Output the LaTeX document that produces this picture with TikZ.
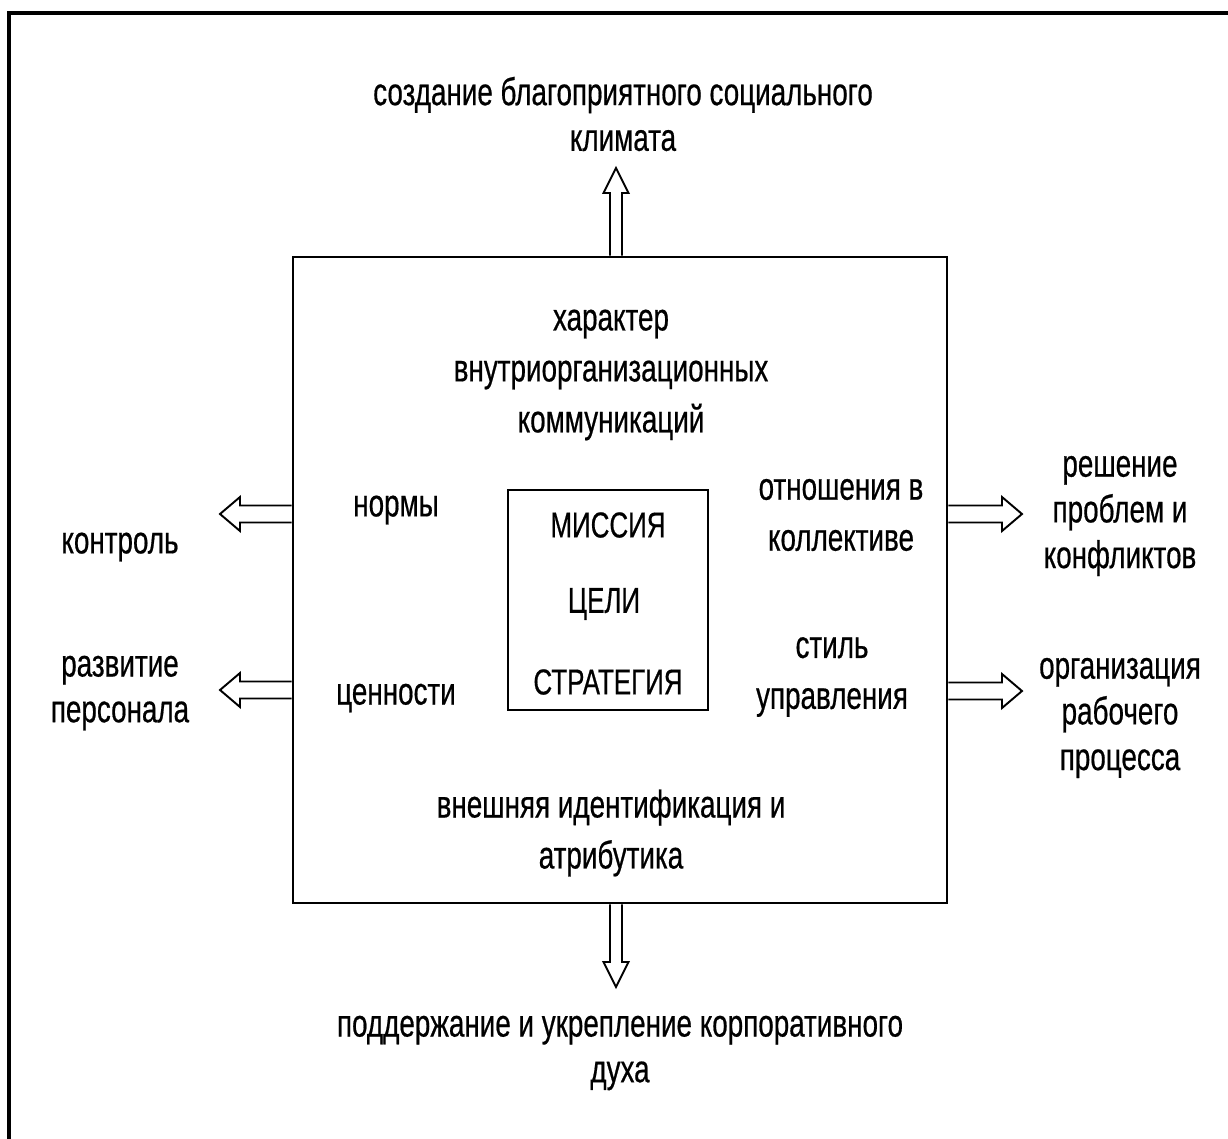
\documentclass[tikz,border=0pt]{standalone}
\usepackage{fontspec}
\setmainfont{Liberation Sans}[FakeStretch=0.72, FakeBold=0.5]
\usetikzlibrary{calc}

\tikzset{
  lbl/.style={align=center, inner sep=0pt, font=\fontsize{22}{26}\selectfont},
  lblwide/.style={lbl, font=\fontsize{22}{29}\selectfont},
  caps/.style={lbl, font=\fontsize{20.5}{24}\selectfont},
  % hollow arrow: shaft half width, head half width, head length
  hollow/.style n args={3}{line width=1.1pt, line join=miter, to path={
    ($(\tikztotarget)!#3!(\tikztostart)$) coordinate (hb)
    ($(\tikztostart)!#1!90:(\tikztotarget)$) -- ($(hb)!#1!90:(\tikztotarget)$)
    -- ($(hb)!#2!90:(\tikztotarget)$) -- (\tikztotarget)
    -- ($(hb)!#2!-90:(\tikztotarget)$) -- ($(hb)!#1!-90:(\tikztotarget)$)
    -- ($(\tikztostart)!#1!-90:(\tikztotarget)$)}},
  vert/.style={hollow={0.12cm}{0.25cm}{0.5cm}},
  horiz/.style={hollow={0.17cm}{0.34cm}{0.4cm}},
}

\begin{document}
\begin{tikzpicture}[x=0.02cm, y=-0.02cm]
  \useasboundingbox (0,0) rectangle (1228,1139);
  % outer frame
  \draw[line width=2pt] (9,1139) -- (9,13) -- (1228,13);

  % main box and inner box
  \node (box) [draw, line width=1.6pt, minimum width=13.08cm, minimum height=12.92cm] at (620,580) {};
  \node (core) [draw, line width=1.2pt, minimum width=4cm, minimum height=4.4cm] at (608,600) {};

  % texts inside the box
  \node (mis) [caps] at (608,525) {МИССИЯ};
  \node (goals) [caps] at (604,604) {ЦЕЛИ};
  \node (strat) [caps] at (608,682) {СТРАТЕГИЯ};
  \node (comm) [lblwide] at (611,375) {характер\\внутриорганизационных\\коммуникаций};
  \node (norms) [lbl] at (396,510) {нормы};
  \node (vals) [lbl] at (396,698) {ценности};
  \node (rel) [lblwide] at (841,515) {отношения в\\коллективе};
  \node (mgmt) [lblwide] at (832,677) {стиль\\управления};
  \node (ident) [lblwide] at (611,833) {внешняя идентификация и\\атрибутика};

  % texts outside the box
  \node (clim) [lbl] at (623,114) {создание благоприятного социального\\климата};
  \node (spirit) [lbl] at (620,1053) {поддержание и укрепление корпоративного\\духа};
  \node (ctrl) [lbl] at (120,547) {контроль};
  \node (pers) [lbl] at (120,693) {развитие\\персонала};
  \node (solve) [lbl] at (1120,516) {решение\\проблем и\\конфликтов};
  \node (work) [lbl] at (1120,718) {организация\\рабочего\\процесса};

  % arrow ends
  \coordinate (up) at (616,168);
  \coordinate (down) at (616,987);
  \coordinate (left1) at (220,514);
  \coordinate (left2) at (220,690);
  \coordinate (right1) at (1022,514);
  \coordinate (right2) at (1022,691);

  % hollow arrows
  \draw[vert] (box.north -| up) to (up);
  \draw[vert] (box.south -| down) to (down);
  \draw[horiz] (box.west |- left1) to (left1);
  \draw[horiz] (box.west |- left2) to (left2);
  \draw[horiz] (box.east |- right1) to (right1);
  \draw[horiz] (box.east |- right2) to (right2);
\end{tikzpicture}
\end{document}
